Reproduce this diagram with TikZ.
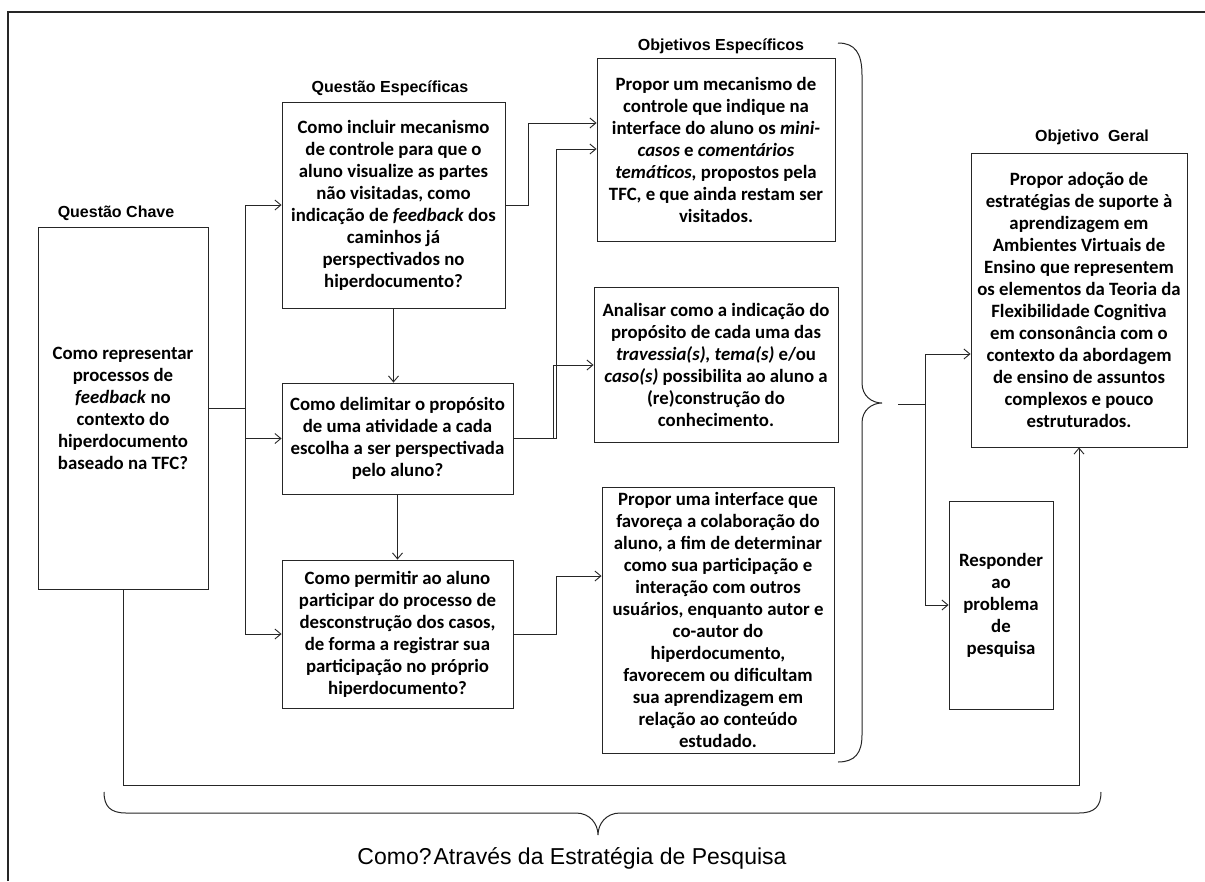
\documentclass[tikz,border=0pt]{standalone}
\usepackage{fontspec}
\setmainfont{Carlito}
\newfontfamily\arialf{Liberation Sans}
\usetikzlibrary{arrows.meta}
\newcommand\bxf{\fontsize{18.8}{22}\selectfont\bfseries}
\begin{document}
\begin{tikzpicture}[x=1pt,y=-1pt,
  ln/.style={draw=black!85, line width=0.9pt},
  arr/.style={ln, -{Straight Barb[length=6pt,width=10pt,line width=0.9pt]}},
  box/.style={ln, inner sep=0pt, align=center, font=\bxf, text=black},
  lab/.style={font=\arialf\bfseries\fontsize{16}{19}\selectfont, inner sep=0pt},
  brace/.style={ln, line width=1pt}]
\useasboundingbox (0,0) rectangle (1205,881);
\fill[white] (0,0) rectangle (1205,881);
% frame
\draw[ln, line width=1.2pt] (8,881) -- (8,12) -- (1205,12);

% boxes
\node[box, minimum width=170pt, minimum height=362pt] (qc) at (123,408)
  {Como representar\\processos de\\\textit{feedback} no\\contexto do\\hiperdocumento\\baseado na TFC?};
\node[box, minimum width=223pt, minimum height=206pt] (qe1) at (393.5,205)
  {Como incluir mecanismo\\de controle para que o\\aluno visualize as partes\\não visitadas, como\\indicação de \textit{feedback} dos\\caminhos já\\perspectivados no\\hiperdocumento?};
\node[box, minimum width=231pt, minimum height=111pt] (qe2) at (397.5,438.5)
  {Como delimitar o propósito\\de uma atividade a cada\\escolha a ser perspectivada\\pelo aluno?};
\node[box, minimum width=231pt, minimum height=148pt] (qe3) at (397.5,634)
  {Como permitir ao aluno\\participar do processo de\\desconstrução dos casos,\\de forma a registrar sua\\participação no próprio\\hiperdocumento?};
\node[box, minimum width=238pt, minimum height=183pt] (oe1) at (716,149.5)
  {Propor um mecanismo de\\controle que indique na\\interface do aluno os \textit{mini-}\\\textit{casos} e \textit{comentários}\\\textit{temáticos,} propostos pela\\TFC, e que ainda restam ser\\visitados.};
\node[box, minimum width=244pt, minimum height=155pt] (oe2) at (716,364.5)
  {Analisar como a indicação do\\propósito de cada uma das\\\textit{travessia(s), tema(s)} e/ou\\\textit{caso(s)} possibilita ao aluno a\\(re)construção do\\conhecimento.};
\node[box, minimum width=232pt, minimum height=266pt] (oe3) at (718,620)
  {Propor uma interface que\\favoreça a colaboração do\\aluno, a fim de determinar\\como sua participação e\\interação com outros\\usuários, enquanto autor e\\co-autor do\\hiperdocumento,\\favorecem ou dificultam\\sua aprendizagem em\\relação ao conteúdo\\estudado.};
\node[box, minimum width=216pt, minimum height=294pt] (og) at (1079,300)
  {Propor adoção de\\estratégias de suporte à\\aprendizagem em\\Ambientes Virtuais de\\Ensino que representem\\os elementos da Teoria da\\Flexibilidade Cognitiva\\em consonância com o\\contexto da abordagem\\de ensino de assuntos\\complexos e pouco\\estruturados.};
\node[box, minimum width=104pt, minimum height=208pt] (rp) at (1001,605)
  {Responder\\ao\\problema\\de\\pesquisa};

% labels
\node[lab] (lqc) at (116,213) {Questão Chave};
\node[lab] (lqe) at (390,88) {Questão Específicas};
\node[lab] (loe) at (721,46) {Objetivos Específicos};
\node[lab] (log) at (1092,137) {Objetivo~ Geral};

% connectors from key question
\coordinate (j1) at (245,408);
\draw[ln] (qc.east) -- (j1);
\draw[arr] (j1) |- (qe1.west);
\draw[arr] (j1) |- (qe2.west);
\draw[arr] (j1) |- (qe3.west);

% vertical between specific questions
\draw[arr] (qe1.south) -- (qe1.south |- qe2.north);
\draw[arr] (qe2.south) -- (qe3.north);

% questions to objectives
\coordinate (c1) at (528,123);
\coordinate (c2) at (556,149);
\coordinate (c3) at (553,365);
\coordinate (c4) at (556,576);
\draw[arr] (qe1.east) -| (c1) -- (c1 -| oe1.west);
\draw[arr] (qe2.east) -| (c2) -- (c2 -| oe1.west);
\draw[arr] (qe2.east) -| (c3) -- (c3 -| oe2.west);
\draw[arr] (qe3.east) -| (c4) -- (c4 -| oe3.west);

% right brace
\draw[brace] (838,43) .. controls (855,43) and (862,53) .. (862,75) -- (862,383)
  .. controls (862,396) and (872,403) .. (882,403)
  .. controls (872,403) and (862,410) .. (862,423) -- (862,735)
  .. controls (862,753) and (855,762) .. (838,762);

% from brace to general objective
\coordinate (b0) at (898,404);
\coordinate (j2) at (925,404);
\coordinate (c5) at (925,354);
\draw[ln] (b0) -- (j2);
\draw[arr] (j2) -- (c5) -- (c5 -| og.west);
\draw[arr] (j2) |- (rp.west);

% bottom loop
\coordinate (c7) at (123,785);
\draw[arr] (qc.south) -- (c7) -| (og.south);

% bottom brace
\draw[brace] (104,792) .. controls (104,806) and (110,813) .. (126,813) -- (576,813)
  .. controls (590,813) and (598,824) .. (598,835)
  .. controls (598,824) and (606,813) .. (620,813) -- (1079,813)
  .. controls (1095,813) and (1101,806) .. (1101,792);

\node[font=\arialf\fontsize{23}{26}\selectfont, inner sep=0pt] (how) at (572,858)
  {Como?\hspace{2pt}Através da Estratégia de Pesquisa};
\end{tikzpicture}
\end{document}
